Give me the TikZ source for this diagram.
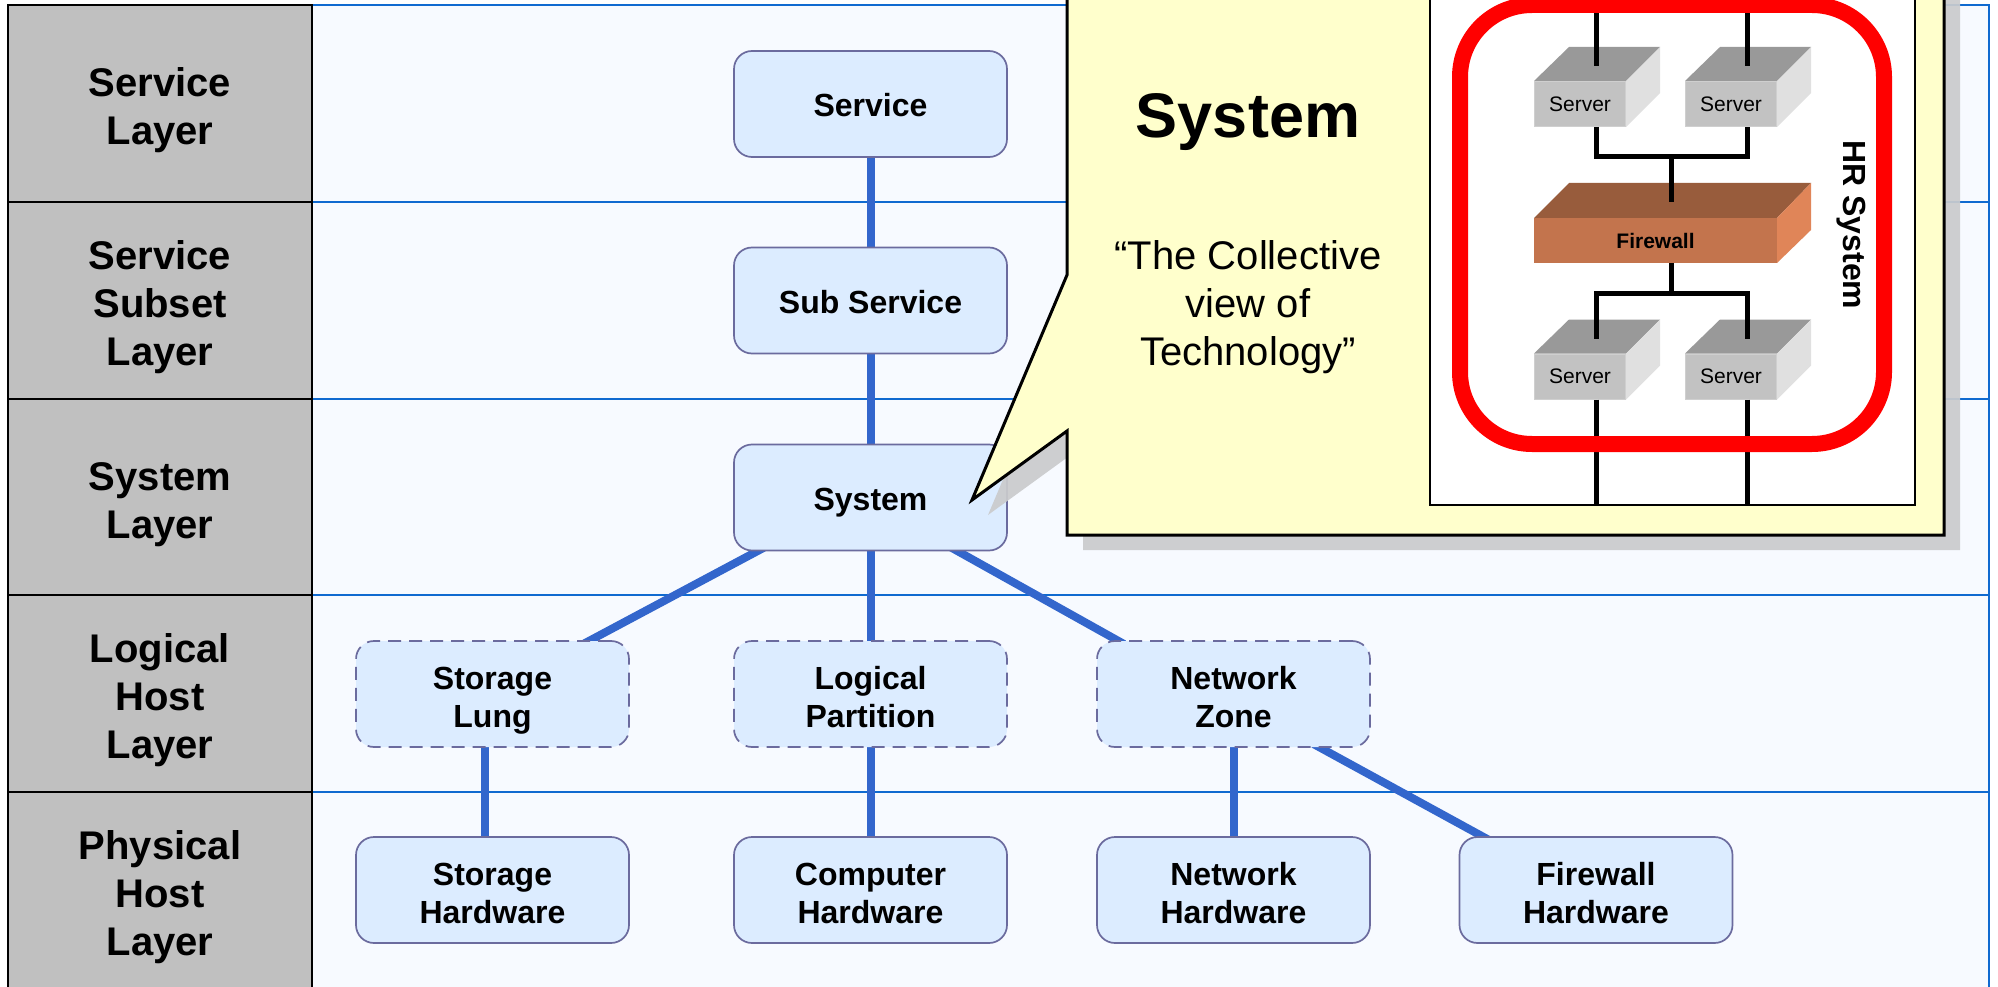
\documentclass[tikz,border=0pt]{standalone}
\usepackage{fontspec}
\usepackage{xcolor}
\setmainfont{Liberation Sans}
\definecolor{layer-grey}{HTML}{C0C0C0}
\definecolor{panel-blue}{HTML}{F7FAFF}
\definecolor{rule-blue}{HTML}{0F6AD0}
\definecolor{link-blue}{HTML}{3366CC}
\definecolor{node-fill}{HTML}{DCECFF}
\definecolor{node-edge}{HTML}{6B6B9E}
\definecolor{note-yellow}{HTML}{FFFFCC}
\definecolor{shade-grey}{HTML}{CACBCD}
\definecolor{fire-top}{HTML}{985C3C}
\definecolor{fire-front}{HTML}{C3744D}
\definecolor{fire-side}{HTML}{E08558}
\pgfdeclarelayer{back}
\pgfdeclarelayer{links}
\pgfsetlayers{back,links,main}
\tikzset{
    layer-box/.style = {draw=black, fill=layer-grey, line width=2pt, rectangle, inner sep=0pt, outer sep=0pt, minimum width=304pt, align=center, text depth=0pt, text height=82pt, font=\fontsize{40}{48}\selectfont\bfseries},
    layer-tall/.style = {layer-box, text height=130pt},
    panel-box/.style = {draw=rule-blue, fill=panel-blue, line width=2pt, rectangle, inner sep=0pt, outer sep=0pt, anchor=north west, minimum width=1677pt, minimum height=1000pt},
    layer-rule/.style = {draw=rule-blue, line width=2pt},
    item-box/.style = {draw=node-edge, fill=node-fill, line width=1.7pt, rectangle, rounded corners=18pt, inner sep=0pt, minimum width=273pt, minimum height=106pt, align=center, text depth=0pt, text height=66pt, font=\fontsize{32}{38}\selectfont\bfseries},
    item-single/.style = {item-box, text height=25pt},
    item-dashed/.style = {item-box, dash pattern=on 13pt off 8pt},
    link/.style = {draw=link-blue, line width=8pt, shorten <=-8pt, shorten >=-8pt},
    wire/.style = {draw=black, line width=5pt},
    note-box/.style = {draw=black, fill=note-yellow, line width=3pt, line join=miter},
    note-shade/.style = {fill=shade-grey, opacity=.93},
    server-box/.pic = {
        \fill[fill=black!40] (-46,-23) -- (-11,-57) -- (80,-57) -- (46,-23) -- cycle;
        \fill[fill=black!12] (46,-23) -- (80,-57) -- (80,-11) -- (46,23) -- cycle;
        \node[draw=black!19, fill=black!24, line width=1pt, inner sep=0pt, minimum width=91pt, minimum height=45pt, font=\fontsize{21}{25}\selectfont] (-front) at (0,0) {Server};
        \coordinate (-top) at (16,-38);
        \coordinate (-bottom) at (16,23);
    },
    firewall-box/.pic = {
        \fill[fill=fire-top] (-121.5,-22.5) -- (-86.5,-57.5) -- (155.5,-57.5) -- (121.5,-22.5) -- cycle;
        \fill[fill=fire-side] (121.5,-22.5) -- (155.5,-57.5) -- (155.5,-10.5) -- (121.5,22.5) -- cycle;
        \node[fill=fire-front, inner sep=0pt, minimum width=243pt, minimum height=45pt, font=\fontsize{21}{25}\selectfont\bfseries] (-front) at (0,0) {Firewall};
        \coordinate (-top) at (15.5,-38.5);
        \coordinate (-bottom) at (15.5,22.5);
    },
}

\begin{document}
\begin{tikzpicture}[x=1pt,y=-1pt]
\path[use as bounding box] (0,0) rectangle (1998,987);

\node[layer-box, minimum height=197pt] (service-layer) at (160,103.5) {Service\\Layer};
\node[layer-tall, minimum height=197pt] (subset-layer) at (160,300.5) {Service\\Subset\\Layer};
\node[layer-box, minimum height=196pt] (system-layer) at (160,497) {System\\Layer};
\node[layer-tall, minimum height=197pt] (logical-layer) at (160,693.5) {Logical\\Host\\Layer};
\node[layer-tall, minimum height=197pt] (physical-layer) at (160,890.5) {Physical\\Host\\Layer};

\node[item-single] (service) at (870.5,104) {Service};
\node[item-single] (sub-service) at (870.5,300.5) {Sub Service};
\node[item-single] (system) at (870.5,497.5) {System};
\node[item-dashed] (storage-lung) at (492.5,694) {Storage\\Lung};
\node[item-dashed] (logical-partition) at (870.5,694) {Logical\\Partition};
\node[item-dashed] (network-zone) at (1233.5,694) {Network\\Zone};
\node[item-box] (storage-hardware) at (492.5,890) {Storage\\Hardware};
\node[item-box] (computer-hardware) at (870.5,890) {Computer\\Hardware};
\node[item-box] (network-hardware) at (1233.5,890) {Network\\Hardware};
\node[item-box] (firewall-hardware) at (1596,890) {Firewall\\Hardware};

\begin{pgfonlayer}{back}
\node[panel-box] (panel) at (312,5) {};
\draw[layer-rule] (service-layer.south east) -- (service-layer.south east -| panel.east);
\draw[layer-rule] (subset-layer.south east) -- (subset-layer.south east -| panel.east);
\draw[layer-rule] (system-layer.south east) -- (system-layer.south east -| panel.east);
\draw[layer-rule] (logical-layer.south east) -- (logical-layer.south east -| panel.east);
\end{pgfonlayer}

\begin{pgfonlayer}{links}
\draw[link] (service) -- (sub-service);
\draw[link] (sub-service) -- (system);
\draw[link] (system) -- (logical-partition);
\draw[link] ([xshift=-113.5pt]system.south) -- ([xshift=98pt]storage-lung.north);
\draw[link] ([xshift=87.5pt]system.south) -- ([xshift=-116.5pt]network-zone.north);
\draw[link] (logical-partition) -- (computer-hardware);
\draw[link] ([xshift=-8pt]storage-lung.south) -- ([xshift=-8pt]storage-hardware.north);
\draw[link] (network-zone) -- (network-hardware);
\draw[link] ([xshift=87pt]network-zone.south) -- ([xshift=-114pt]firewall-hardware.north);
\end{pgfonlayer}

\fill[note-shade, shift={(16,15)}] (1067,-30) -- (1944,-30) -- (1944,535) -- (1067,535) -- (1067,431) -- (972,500) -- (1067,275) -- cycle;
\draw[note-box] (1067,-30) -- (1944,-30) -- (1944,535) -- (1067,535) -- (1067,431) -- (972,500) -- (1067,275) -- cycle;
\node[anchor=base, font=\fontsize{63}{75}\selectfont\bfseries] (note-title) at (1248,137.5) {System};
\node[align=center, text depth=0pt, font=\fontsize{40}{48}\selectfont] (note-text) at (1248,303) {“The Collective\\view of\\Technology”};

\draw[draw=black, fill=white, line width=2.5pt] (1430,-30) rectangle (1915,505);
\coordinate (feed-a) at (1596,-5);
\coordinate (feed-b) at (1747,-5);
\coordinate (exit-a) at (1596,505);
\coordinate (exit-b) at (1747,505);
\coordinate (upper-bus) at (1671,157);
\coordinate (lower-bus) at (1671,293);

\pic (server-a) at (1580,104) {server-box};
\pic (server-b) at (1731,104) {server-box};
\pic (firewall) at (1655.5,240.5) {firewall-box};
\pic (server-c) at (1580,376.5) {server-box};
\pic (server-d) at (1731,376.5) {server-box};

\draw[wire] (feed-a) -- (server-a-top);
\draw[wire] (feed-b) -- (server-b-top);
\draw[wire] (server-a-bottom) |- (upper-bus) -| (server-b-bottom);
\draw[wire] (upper-bus) -- (firewall-top);
\draw[wire] (firewall-bottom) -- (lower-bus);
\draw[wire] (server-c-top) |- (lower-bus) -| (server-d-top);
\draw[wire] (server-c-bottom) -- (exit-a);
\draw[wire] (server-d-bottom) -- (exit-b);

\draw[draw=red, line width=16pt, rounded corners=72pt] (1460,5) rectangle (1884,444);
\node[rotate=-90, font=\fontsize{32}{38}\selectfont\bfseries] (hr-system) at (1851,225) {HR System};
\end{tikzpicture}
\end{document}
